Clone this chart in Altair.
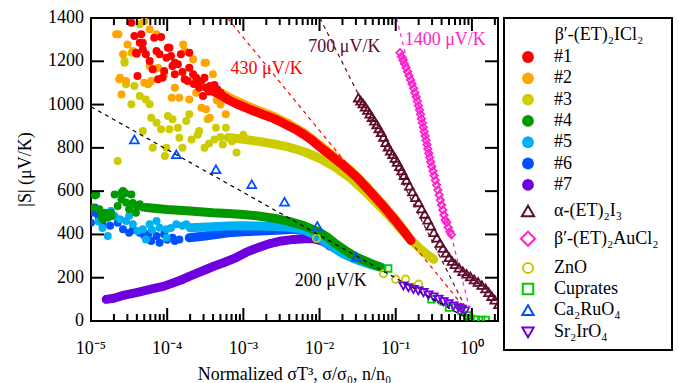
import altair as alt
import numpy as np
import pandas as pd

FONT = "Liberation Serif"

# ---------------- data (x given as log10 of the normalized quantity) ----------------
# beta'-(ET)2ICl2 sample #1
s1_lx = [-4.47, -4.43, -4.34, -4.36, -4.32, -4.41, -4.28, -4.23, -4.17, -4.08, -4.14, -4.10, -4.19, -4.04,
         -3.97, -3.95, -4.01, -4.39, -4.06, -3.93, -3.86, -3.82, -3.90, -3.77, -3.71, -3.66, -3.73, -3.62,
         -3.55, -3.51, -3.49, -3.40, -3.34, -3.27, -3.23, -3.58, -3.53, -3.44, -4.32, -3.99, -3.71, -3.90,
         -4.12, -4.40, -3.60, -3.45, -3.38, -3.30, -3.80, -3.65]
s1_y = [1378, 1317, 1325, 1286, 1286, 1240, 1232, 1201, 1309, 1312, 1247, 1232, 1163, 1155,
        1263, 1224, 1216, 1132, 1124, 1178, 1186, 1232, 1140, 1117, 1170, 1140, 1109, 1124,
        1109, 1124, 1078, 1063, 1070, 1040, 1032, 1078, 1040, 1086, 1255, 1263, 1240, 1193,
        1117, 1235, 1100, 1060, 1090, 1055, 1150, 1095]
s1_band_lx = [-3.4, -3.3, -3.2, -3.1, -3.0, -2.9, -2.8, -2.7, -2.6, -2.5, -2.4, -2.3, -2.2, -2.1, -2.0,
              -1.9, -1.8, -1.7, -1.6, -1.5, -1.4, -1.3, -1.2, -1.1, -1.0, -0.9, -0.8]
s1_band_y = [1062, 1045, 1022, 1005, 990, 975, 962, 948, 935, 918, 900, 882, 860, 835, 805,
             778, 750, 722, 692, 660, 622, 584, 545, 504, 462, 418, 372]

# sample #2
s2_lx = [-4.67, -4.58, -4.52, -4.30, -4.23, -4.14, -4.63, -4.60, -4.54, -4.30, -4.21, -4.45, -4.23, -4.17,
         -3.90, -3.84, -3.77, -3.66, -3.49, -3.40, -3.62, -3.49, -3.44, -3.23, -3.71, -4.04, -4.64, -4.62,
         -4.25, -4.12, -3.79, -3.51, -3.94, -3.55, -3.30, -3.35]
s2_y = [1325, 1232, 1278, 1386, 1348, 1325, 1117, 1047, 1109, 1101, 1109, 1247, 1178, 1163,
        1078, 1032, 1247, 1209, 1193, 1140, 1055, 978, 939, 955, 1024, 1140, 1325, 1124,
        1094, 1170, 1278, 1193, 1032, 985, 1000, 1020]
s2_band_lx = [-3.4, -3.2, -3.0, -2.8, -2.6, -2.4, -2.2, -2.0, -1.8, -1.6, -1.4, -1.2, -1.0, -0.85]
s2_band_y = [1075, 1035, 1002, 972, 945, 910, 868, 814, 758, 698, 628, 550, 468, 400]

# sample #3
s3_lx = [-4.36, -4.47, -4.56, -4.54, -4.36, -4.47, -4.28, -4.23, -4.21, -4.14, -3.99, -3.93, -4.08, -3.97,
         -3.86, -3.75, -3.71, -3.84, -3.68, -3.58, -3.47, -3.36, -3.38, -3.27, -3.23, -4.32, -4.19, -4.01,
         -3.80, -3.51, -4.65, -4.43, -4.56, -4.03, -3.09, -3.30, -3.15, -3.00, -3.60, -3.45]
s3_y = [1371, 1240, 1201, 1094, 1040, 1001, 1024, 1001, 939, 916, 947, 932, 886, 886,
        893, 924, 955, 847, 839, 878, 932, 893, 839, 816, 893, 878, 800, 800,
        800, 800, 739, 1086, 1193, 762, 778, 850, 830, 860, 860, 820]
s3_band_lx = [-3.2, -3.0, -2.8, -2.6, -2.4, -2.2, -2.0, -1.8, -1.6, -1.4, -1.2, -1.0, -0.9, -0.8, -0.7,
              -0.6, -0.5]
s3_band_y = [848, 840, 830, 818, 803, 782, 752, 712, 662, 598, 528, 452, 412, 375, 340, 310, 285]

# sample #4
s4_lx = [-4.93, -4.98, -4.89, -4.85, -4.78, -4.74, -4.69, -4.65, -4.60, -4.58, -4.54, -4.47, -4.50, -4.41,
         -4.36, -4.82, -4.95, -4.86, -4.73, -4.60, -4.55, -4.45, -4.40, -4.32]
s4_y = [585, 524, 516, 470, 477, 500, 585, 531, 562, 601, 547, 585, 516, 500,
        539, 500, 580, 480, 485, 593, 590, 545, 530, 525]
s4_band_lx = [-4.28, -4.0, -3.7, -3.4, -3.2, -3.0, -2.8, -2.6, -2.4, -2.2, -2.0, -1.9, -1.8, -1.7, -1.6,
              -1.5, -1.4, -1.3, -1.2]
s4_band_y = [524, 515, 508, 500, 497, 492, 485, 475, 460, 440, 410, 388, 360, 335, 312,
             292, 278, 262, 250]

# sample #5
s5_lx = [-4.78, -4.74, -4.69, -4.54, -4.50, -4.45, -4.32, -4.23, -4.14, -4.10, -4.01, -3.88, -3.75, -4.28,
         -4.39, -4.01, -4.85, -4.62, -4.20, -3.95, -3.80, -4.90]
s5_y = [393, 508, 485, 462, 485, 447, 424, 447, 462, 431, 424, 447, 447, 377,
        416, 385, 430, 470, 420, 430, 440, 460]
s5_band_lx = [-3.7, -3.4, -3.2, -3.0, -2.8, -2.6, -2.4, -2.2, -2.08, -1.95, -1.8, -1.7, -1.6, -1.47,
              -1.3, -1.18]
s5_band_y = [431, 436, 439, 440, 439, 437, 433, 420, 401, 372, 335, 312, 296, 277, 258, 246]

# sample #6
s6_lx = [-5.0, -4.96, -4.85, -4.65, -4.58, -4.50, -4.36, -4.25, -4.21, -4.10, -4.14, -4.04, -3.93, -3.84,
         -4.95, -4.90, -4.75, -4.45, -4.30, -4.00, -3.90]
s6_y = [454, 500, 454, 454, 424, 408, 408, 401, 370, 362, 393, 401, 385, 377,
        524, 480, 440, 420, 395, 375, 370]
s6_band_lx = [-3.71, -3.5, -3.2, -3.0, -2.78, -2.5, -2.34, -2.2, -2.08]
s6_band_y = [385, 393, 408, 412, 416, 420, 424, 418, 401]

# sample #7
s7_lx = [-4.80, -4.70, -4.58, -4.45, -4.36, -4.20, -4.05, -3.93, -3.80, -3.71, -3.60, -3.49, -3.38, -3.27,
         -3.10, -2.96, -2.80, -2.65, -2.50, -2.34, -2.20, -2.08, -1.98, -1.91, -1.86]
s7_y = [100, 105, 118, 128, 135, 148, 160, 175, 192, 206, 222, 238, 254, 268,
        292, 318, 340, 358, 370, 377, 380, 380, 372, 360, 346]

# alpha-(ET)2I3
a_lx = [-1.49, -1.46, -1.43, -1.40, -1.37, -1.34, -1.31, -1.28, -1.25, -1.22, -1.19, -1.16, -1.13, -1.10,
        -1.07, -1.04, -1.01, -0.98, -0.95, -0.92, -0.89, -0.86, -0.82, -0.78, -0.74, -0.70, -0.66, -0.62,
        -0.58, -0.54, -0.50, -0.46, -0.42, -0.38, -0.34, -0.30, -0.26, -0.22, -0.17, -0.12, -0.07, -0.02,
        0.03, 0.08, 0.13, 0.18, 0.22, 0.26, 0.30, 0.35]
a_y = [1032, 1018, 1005, 990, 975, 958, 942, 925, 908, 890, 872, 850, 826, 805,
       787, 770, 753, 735, 715, 695, 674, 652, 625, 598, 572, 548, 520, 495,
       468, 440, 410, 385, 360, 337, 315, 295, 277, 262, 246, 230, 218, 206,
       192, 180, 166, 150, 133, 115, 98, 77]

# beta'-(ET)2AuCl2
au_lx = [-0.944, -0.925, -0.905, -0.885, -0.865, -0.845, -0.825, -0.805, -0.785, -0.765, -0.748, -0.731,
         -0.716, -0.702, -0.688, -0.675, -0.662, -0.650, -0.638, -0.626, -0.614, -0.602, -0.590, -0.578,
         -0.566, -0.554, -0.541, -0.527, -0.512, -0.496, -0.480, -0.463, -0.446, -0.430, -0.414, -0.398,
         -0.382, -0.366, -0.350, -0.330, -0.310, -0.290, -0.270]
au_y = [1240, 1222, 1205, 1188, 1170, 1152, 1133, 1114, 1095, 1075, 1055, 1035,
        1015, 995, 975, 955, 935, 915, 895, 875, 855, 835, 815, 795,
        775, 755, 735, 714, 693, 672, 650, 628, 605, 582, 559, 536,
        513, 490, 467, 455, 432, 412, 400]

# ZnO
zno_lx = [-2.04, -1.16, -1.00, -0.87, -0.70]
zno_y = [382, 219, 193, 193, 170]

# Cuprates
cu_lx = [-1.10, -0.53, -0.37, -0.30, -0.14, -0.06, -0.02, 0.05, 0.12, 0.18]
cu_y = [243, 100, 90, 62, 48, 25, 10, 6, 5, 5]

# Ca2RuO4
ru_lx = [-4.43, -3.88, -3.36, -2.89, -2.46, -2.03, -1.52]
ru_y = [839, 770, 701, 632, 551, 439, 296]

# Sr2IrO4
ir_lx = [-0.899, -0.833, -0.767, -0.702, -0.636, -0.570, -0.505, -0.439, -0.373, -0.308, -0.242, -0.176,
         -0.133, -0.089]
ir_y = [162, 154, 146, 139, 131, 120, 111, 100, 89, 80, 69, 61, 54, 46]

# dashed guide lines (end points) and their labels
fits = [
    # label, colour, log10 x ends, y ends, label position (log10 x, y)
    ("430 μV/K", "#ff0000", [-3.21, -0.13], [1400, 76], (-3.168, 1165)),
    ("700 μV/K", "#5e0c2c", [-1.995, -0.10], [1400, 74], (-2.147, 1266)),
    ("1400 μV/K", "#ff22cc", [-0.99, -0.03], [1400, 56], (-0.882, 1300)),
    ("200 μV/K", "#000000", [-5.0, -0.08], [990, 16], (-2.327, 185)),
]

ICL_COLORS = {"#1": "#ff0000", "#2": "#ffa500", "#3": "#cccc00", "#4": "#009a00",
              "#5": "#00b0f4", "#6": "#0050ff", "#7": "#6e00e0"}

# axis ticks and labels
major_x = [1e-5, 1e-4, 1e-3, 1e-2, 1e-1, 1.0]
major_x_labels = ["10⁻⁵", "10⁻⁴", "10⁻³", "10⁻²", "10⁻¹", "10⁰"]
minor_x = [k * 10.0 ** n for n in range(-5, 1) for k in range(2, 10) if k * 10.0 ** n <= 2.2]
y_ticks = list(range(0, 1401, 200))
x_title = "Normalized σT³, σ/σ₀, n/n₀"
y_title = "|S| (μV/K)"

# ---------------- scales ----------------
W, H = 407, 303
MAJ, MIN = 13, 7  # inward tick lengths (px)
X_DOM = [1e-5, 2.2]
Y_DOM = [0, 1400]
X_SCALE = alt.Scale(type="log", domain=X_DOM, nice=False)
Y_SCALE = alt.Scale(domain=Y_DOM, nice=False)

# tick lengths expressed in data units of each scale
_ldec = np.log10(X_DOM[1]) - np.log10(X_DOM[0])
dy_maj = (Y_DOM[1] - Y_DOM[0]) * MAJ / H
dy_min = (Y_DOM[1] - Y_DOM[0]) * MIN / H
x_in_left = X_DOM[0] * 10 ** (_ldec * MAJ / W)
x_in_right = X_DOM[1] / 10 ** (_ldec * MAJ / W)


def df(lx, y):
    return pd.DataFrame({"x": np.power(10.0, np.array(lx, dtype=float)), "y": y})


def xe():
    return alt.X("x:Q", scale=X_SCALE, axis=None)


def ye():
    return alt.Y("y:Q", scale=Y_SCALE, axis=None)


layers = []

icl = [
    ("#7", s7_lx, s7_y, s7_lx, s7_y),
    ("#6", s6_lx, s6_y, s6_band_lx, s6_band_y),
    ("#5", s5_lx, s5_y, s5_band_lx, s5_band_y),
    ("#4", s4_lx, s4_y, s4_band_lx, s4_band_y),
    ("#3", s3_lx, s3_y, s3_band_lx, s3_band_y),
    ("#2", s2_lx, s2_y, s2_band_lx, s2_band_y),
    ("#1", s1_lx, s1_y, s1_band_lx, s1_band_y),
]
for name, lx, y, blx, by in icl:
    col = ICL_COLORS[name]
    layers.append(alt.Chart(df(blx, by)).mark_line(
        color=col, strokeWidth=9, strokeCap="round", strokeJoin="round", clip=True
    ).encode(x=xe(), y=ye()))
    layers.append(alt.Chart(df(lx, y)).mark_circle(
        color=col, opacity=1, size=64, clip=True).encode(x=xe(), y=ye()))

open_sets = [
    (a_lx, a_y, "triangle-up", "#5e0c2c", 80),
    (au_lx, au_y, "diamond", "#ff22cc", 55),
    (zno_lx, zno_y, "circle", "#c8c800", 55),
    (cu_lx, cu_y, "square", "#00cc00", 45),
    (ru_lx, ru_y, "triangle-up", "#0050ff", 80),
    (ir_lx, ir_y, "triangle-down", "#7000e0", 70),
]
for lx, y, shape, col, size in open_sets:
    layers.append(alt.Chart(df(lx, y)).mark_point(
        shape=shape, filled=False, color=col, strokeWidth=1.8, size=size, opacity=1, clip=True
    ).encode(x=xe(), y=ye()))

for label, col, flx, fy, (tlx, ty) in fits:
    layers.append(alt.Chart(df(flx, fy)).mark_line(
        color=col, strokeWidth=1.2, strokeDash=[4, 4], clip=True).encode(x=xe(), y=ye()))
    tdf = df([tlx], [ty]).assign(t=label)
    layers.append(alt.Chart(tdf).mark_text(
        color=col, font=FONT, fontSize=18, align="left", baseline="middle"
    ).encode(x=xe(), y=ye(), text="t:N"))

# frame ticks (inward on all four sides) and tick labels, positioned through the scales; drawn last
bt_major = pd.DataFrame({"x": major_x, "y": Y_DOM[0], "y2": Y_DOM[0] + dy_maj})
tp_major = pd.DataFrame({"x": major_x, "y": Y_DOM[1], "y2": Y_DOM[1] - dy_maj})
bt_minor = pd.DataFrame({"x": minor_x, "y": Y_DOM[0], "y2": Y_DOM[0] + dy_min})
tp_minor = pd.DataFrame({"x": minor_x, "y": Y_DOM[1], "y2": Y_DOM[1] - dy_min})
lf_ticks = pd.DataFrame({"y": y_ticks, "x": X_DOM[0], "x2": x_in_left})
rt_ticks = pd.DataFrame({"y": y_ticks, "x": X_DOM[1], "x2": x_in_right})
xt_lab = pd.DataFrame({"x": major_x, "t": major_x_labels})
yt_lab = pd.DataFrame({"y": y_ticks, "t": [str(v) for v in y_ticks]})

tick_mark = dict(color="black", strokeWidth=2, opacity=1)
txt = dict(font=FONT, fontSize=18, color="black")
for d in (bt_major, tp_major, bt_minor, tp_minor):
    layers.append(alt.Chart(d).mark_rule(**tick_mark).encode(x=xe(), y=ye(), y2="y2:Q"))
for d in (lf_ticks, rt_ticks):
    layers.append(alt.Chart(d).mark_rule(**tick_mark).encode(y=ye(), x=xe(), x2="x2:Q"))
layers += [
    alt.Chart(xt_lab).mark_text(align="center", baseline="alphabetic", **txt).encode(
        x=xe(), y=alt.value(H + 33), text="t:N"),
    alt.Chart(yt_lab).mark_text(align="right", baseline="middle", **txt).encode(
        y=ye(), x=alt.value(-7), text="t:N"),
    alt.Chart(pd.DataFrame({"t": [x_title]})).mark_text(
        align="center", baseline="alphabetic", **txt).encode(
        x=alt.value(W / 2), y=alt.value(H + 59), text="t:N"),
    alt.Chart(pd.DataFrame({"t": [y_title]})).mark_text(
        align="center", baseline="middle", angle=270, **txt).encode(
        x=alt.value(-65), y=alt.value(H / 2), text="t:N"),
]

main = alt.layer(*layers).properties(width=W, height=H)

# ---------------- legend ----------------
leg_labels = ["#1", "#2", "#3", "#4", "#5", "#6", "#7", "α-(ET)₂I₃", "β′-(ET)₂AuCl₂", "ZnO",
              "Cuprates", "Ca₂RuO₄", "Sr₂IrO₄"]
leg_rows = [0, 1, 2, 3, 4, 5, 6, 7.23, 8.53, 9.9, 10.89, 11.88, 12.93]
leg_colors = [ICL_COLORS[k] for k in ["#1", "#2", "#3", "#4", "#5", "#6", "#7"]] + \
    ["#5e0c2c", "#ff22cc", "#c8c800", "#00cc00", "#0050ff", "#7000e0"]
leg_shapes = ["circle"] * 7 + ["triangle-up", "diamond", "circle", "square", "triangle-up",
                                 "triangle-down"]
leg_sizes = [140] * 7 + [150, 200, 100, 110, 130, 130]
leg_title = "β′-(ET)₂ICl₂"

leg = pd.DataFrame({"label": leg_labels, "row": leg_rows, "color": leg_colors,
                    "shape": leg_shapes, "size": leg_sizes})
LY = alt.Scale(domain=[-1.832, 13.755], reverse=True, nice=False, zero=False)
ly = alt.Y("row:Q", scale=LY, axis=None)

leg_filled = alt.Chart(leg.iloc[:7]).mark_circle(opacity=1).encode(
    x=alt.value(24), y=ly, color=alt.Color("color:N", scale=None), size=alt.Size("size:Q", scale=None))
leg_open = alt.Chart(leg.iloc[7:]).mark_point(filled=False, strokeWidth=2, opacity=1).encode(
    x=alt.value(24), y=ly, color=alt.Color("color:N", scale=None),
    shape=alt.Shape("shape:N", scale=None), size=alt.Size("size:Q", scale=None))
leg_text = alt.Chart(leg).mark_text(font=FONT, fontSize=18, align="left", baseline="middle",
                                    color="black").encode(x=alt.value(50), y=ly, text="label:N")
leg_head = alt.Chart(pd.DataFrame({"label": [leg_title], "row": [-1.02]})).mark_text(
    font=FONT, fontSize=18, align="center", baseline="middle", color="black"
).encode(x=alt.value(95), y=ly, text="label:N")

legend = alt.layer(leg_filled, leg_open, leg_text, leg_head).properties(width=168, height=332)

chart = alt.hconcat(main, legend, spacing=3).properties(
    padding={"left": 16, "top": 8, "right": 5, "bottom": 0}
).configure(background="white", font=FONT).configure_view(
    stroke="black", strokeWidth=2
)

chart.save("out.html", embed_options={"renderer": "svg", "actions": False})
